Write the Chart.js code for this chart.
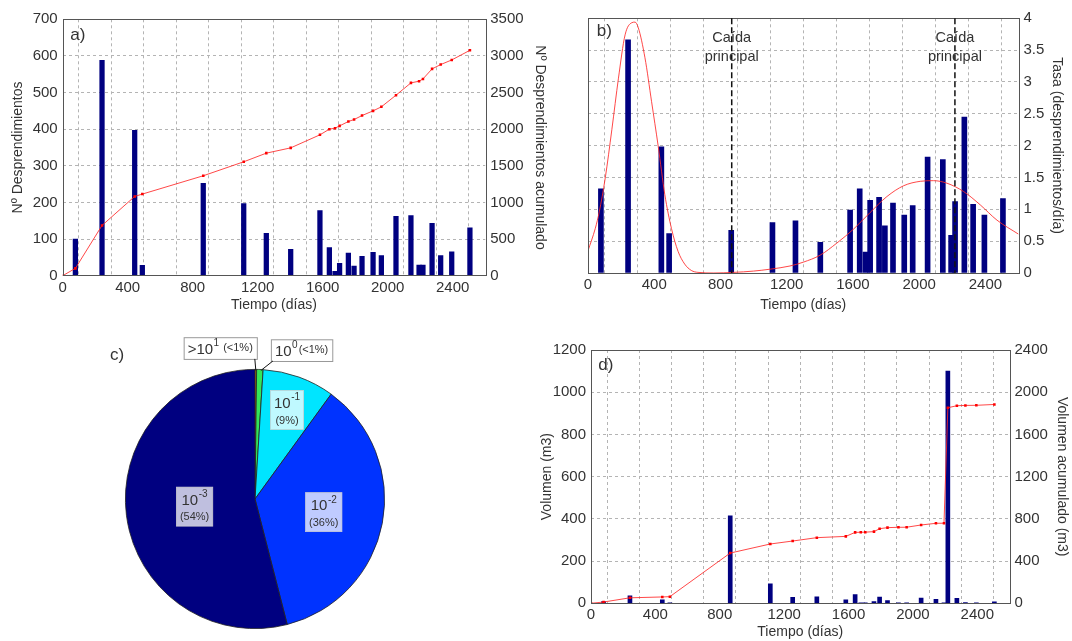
<!DOCTYPE html>
<html>
<head>
<meta charset="utf-8">
<script src="https://cdn.jsdelivr.net/npm/chart.js@4.4.1/dist/chart.umd.min.js"></script>
<style>
  body { margin: 0; width: 1072px; height: 641px; background: #fff; position: relative; overflow: hidden; }
  .panel { position: absolute; }
</style>
</head>
<body>
<div class="panel" style="left:0;top:0;width:550px;height:322px"><canvas id="chartA"></canvas></div>
<div class="panel" style="left:545px;top:0;width:527px;height:322px"><canvas id="chartB"></canvas></div>
<div class="panel" style="left:100px;top:330px;width:340px;height:311px"><canvas id="chartC"></canvas></div>
<div class="panel" style="left:520px;top:330px;width:552px;height:311px"><canvas id="chartD"></canvas></div>
<script>
// event days (time since start of monitoring)
const days = [78, 242, 443, 490, 865, 1114, 1253, 1403, 1583, 1641, 1676, 1704, 1758, 1793, 1842, 1910, 1961, 2051, 2143, 2193, 2217, 2273, 2326, 2394, 2506];

// a) number of rockfalls per survey and running total
const rockfalls = [100, 588, 397, 28, 252, 197, 116, 72, 178, 77, 12, 34, 62, 26, 53, 64, 55, 162, 164, 29, 29, 143, 55, 65, 131];
const cumDays = [0, 78, 242, 443, 490, 865, 1114, 1253, 1403, 1583, 1641, 1676, 1704, 1758, 1793, 1842, 1910, 1961, 2051, 2143, 2193, 2217, 2273, 2326, 2394, 2506];
const rockfallsCum = [0, 100, 686, 1082, 1114, 1364, 1555, 1673, 1745, 1923, 2000, 2014, 2045, 2105, 2132, 2186, 2250, 2305, 2464, 2632, 2655, 2686, 2823, 2882, 2945, 3077];

// b) rate (rockfalls/day) and fitted curve
const rate = [1.32, 3.66, 1.98, 0.62, 0.67, 0.79, 0.82, 0.48, 0.99, 1.32, 0.33, 1.14, 1.19, 0.74, 1.10, 0.91, 1.06, 1.82, 1.78, 0.59, 1.12, 2.45, 1.08, 0.91, 1.17];
const fitDays = [0, 44, 68, 104, 144, 184, 224, 264, 284, 304, 344, 384, 424, 464, 504, 544, 584, 624, 664, 760, 880, 1000, 1100, 1220, 1300, 1402, 1503, 1604, 1704, 1805, 1906, 2007, 2087, 2168, 2268, 2369, 2470, 2600];
const fitRate = [0.35, 0.70, 0.96, 1.49, 2.25, 3.06, 3.74, 3.93, 3.94, 3.85, 3.38, 2.69, 1.99, 1.23, 0.70, 0.34, 0.14, 0.04, 0.01, 0.0, 0.01, 0.03, 0.06, 0.11, 0.17, 0.28, 0.47, 0.69, 0.95, 1.20, 1.37, 1.44, 1.45, 1.41, 1.28, 1.07, 0.83, 0.61];
const mainFallDays = [868, 2216];

// c) volume classes (m3)
const classBase = ['>10', '10', '10', '10', '10'];
const classExp = ['1', '0', '-1', '-2', '-3'];
const classPct = ['(<1%)', '(<1%)', '(9%)', '(36%)', '(54%)'];
const classShare = [0.2, 0.8, 9, 36, 54];

// d) volume per survey and running total
const volume = [8, 35, 16, 2, 414, 92, 28, 31, 16, 41, 1, 1, 8, 30, 13, 2, 1, 25, 19, 1, 1100, 24, 3, 2, 7];
const volumeCum = [0, 12, 52, 60, 63, 476, 562, 590, 622, 634, 672, 673, 674, 679, 707, 717, 720, 721, 742, 758, 759, 1853, 1872, 1875, 1876, 1884];

const FONT = "'Liberation Sans', Arial, sans-serif";
const textColor = '#333';
const gridColor = '#b4b4b4';
const barColor = '#000080';
const tickFont = { size: 15 };
const titleFont = { size: 14 };

Chart.defaults.font.family = FONT;
Chart.defaults.color = textColor;
Chart.defaults.animation = false;
Chart.defaults.events = [];
Chart.defaults.plugins.legend.display = false;
Chart.defaults.plugins.tooltip.enabled = false;

const toXY = (xs, ys) => xs.map((x, i) => ({ x: x, y: ys[i] }));

// box around the plot + panel letter
const framePlugin = {
    id: 'frame',
    afterDatasetsDraw(chart, args, opts) {
        const { ctx, chartArea: a } = chart;
        ctx.save();
        ctx.strokeStyle = '#555';
        ctx.lineWidth = 1;
        ctx.strokeRect(Math.round(a.left) + 0.5, Math.round(a.top) + 0.5, Math.round(a.width), Math.round(a.height));
        ctx.fillStyle = textColor;
        ctx.font = '17px ' + FONT;
        ctx.textBaseline = 'middle';
        ctx.fillText(opts.letter, a.left + opts.dx, a.top + opts.dy);
        ctx.restore();
    }
};

function timeAxis(height, titlePad) {
    return {
        type: 'linear',
        position: 'bottom',
        min: 0,
        max: 2600,
        offset: false,
        afterFit: (s) => { s.height = height; },
        ticks: {
            stepSize: 200,
            autoSkip: false,
            maxRotation: 0,
            padding: 3,
            color: textColor,
            font: tickFont,
            callback: (v) => (v % 400 === 0 ? String(v) : ''),
        },
        grid: { color: gridColor, drawTicks: false },
        border: { display: false, dash: [3, 3] },
        title: { display: true, text: 'Tiempo (días)', color: textColor, font: titleFont, padding: { top: 0, bottom: titlePad } },
    };
}

function valueAxis(position, max, step, width, title, titlePad, showGrid) {
    return {
        type: 'linear',
        position: position,
        min: 0,
        max: max,
        afterFit: (s) => { s.width = width; },
        ticks: { stepSize: step, padding: 5, color: textColor, font: tickFont, callback: (v) => String(v) },
        grid: { display: showGrid, color: gridColor, drawTicks: false },
        border: { display: false, dash: [3, 3] },
        title: { display: !!title, text: title, color: textColor, font: titleFont, padding: { top: titlePad, bottom: 0 } },
    };
}

function barSet(values, thickness) {
    return {
        type: 'bar',
        data: toXY(days, values),
        backgroundColor: barColor,
        borderWidth: 0,
        barThickness: thickness,
        yAxisID: 'y',
        order: 2,
    };
}

function cumSet(xs, values) {
    return {
        type: 'line',
        data: toXY(xs, values),
        borderColor: 'rgba(255, 40, 40, 0.85)',
        borderWidth: 1,
        pointStyle: 'rect',
        pointRadius: 1.8,
        pointBackgroundColor: '#ff0000',
        pointBorderWidth: 0,
        tension: 0,
        yAxisID: 'y2',
        order: 1,
    };
}

// a) Nº desprendimientos
new Chart(document.getElementById('chartA'), {
    type: 'bar',
    data: { datasets: [cumSet(cumDays, rockfallsCum), barSet(rockfalls, 4.6)] },
    options: {
        responsive: true,
        maintainAspectRatio: false,
        layout: { padding: { top: 19.3, left: 0, right: 0, bottom: 0 } },
        scales: {
            x: timeAxis(46.3, 8.6),
            y: valueAxis('left', 700, 100, 62.7, 'Nº Desprendimientos', 9.6, true),
            y2: valueAxis('right', 3500, 500, 64.8, 'Nº Desprendimientos acumulado', 1.6, false),
        },
        plugins: { frame: { letter: 'a)', dx: 7.5, dy: 15.7 } },
    },
    plugins: [framePlugin],
});

// b) rate with the two main falls marked
const mainFallPlugin = {
    id: 'mainFall',
    afterDatasetsDraw(chart) {
        const { ctx, chartArea: a, scales } = chart;
        ctx.save();
        mainFallDays.forEach((d) => {
            const px = scales.x.getPixelForValue(d);
            ctx.strokeStyle = '#111';
            ctx.lineWidth = 1.5;
            ctx.setLineDash([6, 3]);
            ctx.beginPath();
            ctx.moveTo(px, a.top);
            ctx.lineTo(px, a.bottom);
            ctx.stroke();
            ctx.setLineDash([]);
            ctx.fillStyle = textColor;
            ctx.font = '14.5px ' + FONT;
            ctx.textAlign = 'center';
            ctx.textBaseline = 'middle';
            ctx.fillText('Caída', px, a.top + 19.4);
            ctx.fillText('principal', px, a.top + 38.5);
        });
        ctx.restore();
    }
};

new Chart(document.getElementById('chartB'), {
    type: 'bar',
    data: {
        datasets: [
            {
                type: 'line',
                data: toXY(fitDays, fitRate),
                borderColor: 'rgba(255, 40, 40, 0.85)',
                borderWidth: 1,
                pointRadius: 0,
                cubicInterpolationMode: 'monotone',
                yAxisID: 'y',
                order: 1,
            },
            barSet(rate, 5),
        ],
    },
    options: {
        responsive: true,
        maintainAspectRatio: false,
        layout: { padding: { top: 18.3, left: 43, right: 0, bottom: 0 } },
        scales: {
            x: timeAxis(49, 8.6),
            y: valueAxis('right', 4, 0.5, 53.5, 'Tasa (desprendimientos/día)', 6.6, true),
        },
        plugins: { frame: { letter: 'b)', dx: 8.7, dy: 13.4 } },
    },
    plugins: [framePlugin, mainFallPlugin],
});

// c) share of each volume class
function drawPower(ctx, x, y, base, exp, baseSize, expSize) {
    ctx.font = baseSize + 'px ' + FONT;
    ctx.fillText(base, x, y);
    const w = ctx.measureText(base).width;
    ctx.font = expSize + 'px ' + FONT;
    ctx.fillText(exp, x + w + 0.5, y - baseSize * 0.42);
}

function powerWidth(ctx, base, exp, baseSize, expSize) {
    ctx.font = baseSize + 'px ' + FONT;
    const w = ctx.measureText(base).width;
    ctx.font = expSize + 'px ' + FONT;
    return w + 0.5 + ctx.measureText(exp).width;
}

// radius fraction where each big class gets its label
const innerLabels = { 2: 0.73, 3: 0.54, 4: 0.47 };

const pieLabelPlugin = {
    id: 'pieLabels',
    afterDatasetsDraw(chart) {
        const { ctx } = chart;
        const arcs = chart.getDatasetMeta(0).data;
        ctx.save();
        ctx.textBaseline = 'middle';
        ctx.textAlign = 'left';

        arcs.forEach((arc, i) => {
            const { x, y, startAngle, endAngle, outerRadius } = arc.getProps(['x', 'y', 'startAngle', 'endAngle', 'outerRadius'], true);
            const mid = (startAngle + endAngle) / 2;
            if (innerLabels[i] !== undefined) {
                const r = outerRadius * innerLabels[i];
                const cx = x + Math.cos(mid) * r;
                const cy = y + Math.sin(mid) * r;
                const w1 = powerWidth(ctx, classBase[i], classExp[i], 15, 10);
                ctx.font = '11px ' + FONT;
                const w2 = ctx.measureText(classPct[i]).width;
                const bw = Math.max(w1, w2) + 7;
                const bh = 39;
                ctx.fillStyle = 'rgba(255, 255, 255, 0.75)';
                ctx.fillRect(cx - bw / 2, cy - bh / 2, bw, bh);
                ctx.strokeStyle = 'rgba(210, 210, 210, 0.9)';
                ctx.lineWidth = 0.8;
                ctx.strokeRect(cx - bw / 2, cy - bh / 2, bw, bh);
                ctx.fillStyle = textColor;
                drawPower(ctx, cx - w1 / 2, cy - 6, classBase[i], classExp[i], 15, 10);
                ctx.font = '11px ' + FONT;
                ctx.fillText(classPct[i], cx - w2 / 2, cy + 10.5);
            } else {
                // small classes get a box outside the pie with a leader line
                const ex = x + Math.cos(mid) * outerRadius;
                const ey = y + Math.sin(mid) * outerRadius;
                const w1 = powerWidth(ctx, classBase[i], classExp[i], 15, 10);
                ctx.font = '11px ' + FONT;
                const w2 = ctx.measureText(classPct[i]).width;
                const gap = i === 0 ? 4 : 1;
                const bw = w1 + gap + w2 + 8;
                const bh = 21.7;
                const left = i === 0 ? ex + 1 - bw : ex + 11;
                const bottom = ey - (i === 0 ? 10.5 : 8.5);
                ctx.fillStyle = '#fff';
                ctx.fillRect(left, bottom - bh, bw, bh);
                ctx.strokeStyle = '#999';
                ctx.lineWidth = 1;
                ctx.strokeRect(left + 0.5, bottom - bh + 0.5, bw, bh);
                ctx.strokeStyle = '#111';
                ctx.beginPath();
                ctx.moveTo(i === 0 ? left + bw - 2 : left + 2, bottom);
                ctx.lineTo(ex + (i === 0 ? 0 : 1), ey + 1);
                ctx.stroke();
                ctx.fillStyle = textColor;
                const ty = bottom - bh / 2 + 1.5;
                drawPower(ctx, left + 4, ty, classBase[i], classExp[i], 15, 10);
                ctx.font = '11px ' + FONT;
                ctx.fillText(classPct[i], left + 4 + w1 + gap, ty - 2);
            }
        });

        ctx.fillStyle = textColor;
        ctx.font = '17px ' + FONT;
        ctx.fillText('c)', 10, 25);
        ctx.restore();
    }
};

new Chart(document.getElementById('chartC'), {
    type: 'pie',
    data: {
        labels: classExp,
        datasets: [{
            data: classShare,
            backgroundColor: ['#ffa500', '#33e65a', '#00e5ff', '#0033ff', '#000080'],
            borderColor: '#222',
            borderWidth: 0.8,
        }],
    },
    options: {
        responsive: true,
        maintainAspectRatio: false,
        layout: { padding: { top: 39, left: 25, right: 55, bottom: 12 } },
    },
    plugins: [pieLabelPlugin],
});

// d) volume
new Chart(document.getElementById('chartD'), {
    type: 'bar',
    data: { datasets: [cumSet(cumDays, volumeCum), barSet(volume, 4)] },
    options: {
        responsive: true,
        maintainAspectRatio: false,
        layout: { padding: { top: 20, left: 0, right: 0, bottom: 0 } },
        scales: {
            x: timeAxis(37.7, 0.6),
            y: valueAxis('left', 1200, 200, 71, 'Volumen (m3)', 18.6, true),
            y2: valueAxis('right', 2400, 400, 62.5, 'Volumen acumulado (m3)', 1.6, false),
        },
        plugins: { frame: { letter: 'd)', dx: 7.3, dy: 15 } },
    },
    plugins: [framePlugin],
});
</script>
</body>
</html>
